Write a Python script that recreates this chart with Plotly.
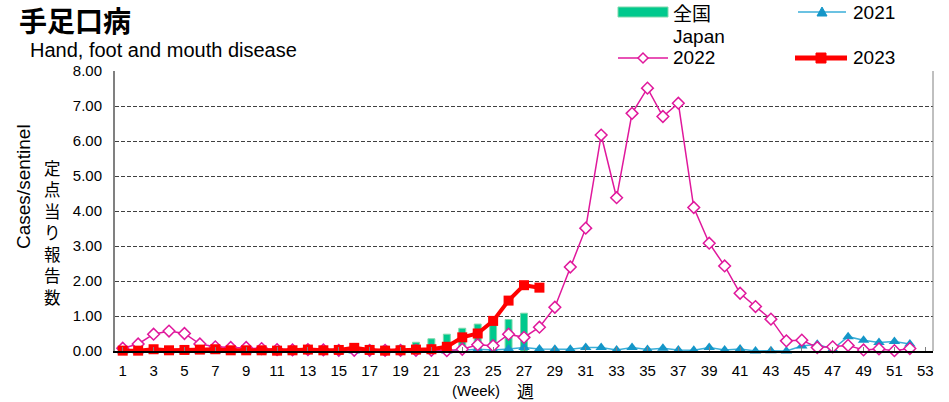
import plotly.graph_objects as go

weeks_all = list(range(1, 53))
weeks_2023 = list(range(1, 29))
weeks_japan = list(range(1, 28))

japan_2023 = [0.03, 0.03, 0.04, 0.04, 0.05, 0.06, 0.07, 0.06, 0.06, 0.05,
              0.05, 0.05, 0.06, 0.06, 0.07, 0.09, 0.16, 0.14, 0.16, 0.25,
              0.35, 0.48, 0.65, 0.77, 0.84, 0.90, 1.08]

y2021 = [0.00, 0.00, 0.01, 0.00, 0.00, 0.00, 0.00, 0.01, 0.00, 0.00,
         0.01, 0.01, 0.02, 0.02, 0.00, 0.00, 0.01, 0.01, 0.01, 0.01,
         0.02, 0.00, 0.02, 0.05, 0.03, 0.06, 0.10, 0.06, 0.05, 0.05,
         0.10, 0.10, 0.03, 0.10, 0.04, 0.08, 0.03, 0.02, 0.10, 0.03,
         0.06, 0.00, 0.01, 0.00, 0.14, 0.19, 0.05, 0.41, 0.31, 0.24,
         0.27, 0.20]

y2022 = [0.08, 0.20, 0.48, 0.57, 0.50, 0.20, 0.12, 0.10, 0.10, 0.07,
         0.04, 0.03, 0.04, 0.03, 0.02, 0.02, 0.02, 0.02, 0.02, 0.02,
         0.02, 0.01, 0.05, 0.18, 0.15, 0.48, 0.39, 0.68, 1.25, 2.40,
         3.51, 6.17, 4.38, 6.79, 7.51, 6.70, 7.08, 4.10, 3.08, 2.43,
         1.65, 1.27, 0.91, 0.29, 0.31, 0.10, 0.12, 0.16, 0.03, 0.06,
         0.01, 0.07]

y2023 = [0.01, 0.01, 0.05, 0.02, 0.03, 0.04, 0.05, 0.02, 0.02, 0.02,
         0.01, 0.02, 0.04, 0.02, 0.03, 0.09, 0.03, 0.01, 0.02, 0.04,
         0.05, 0.12, 0.39, 0.50, 0.86, 1.44, 1.88, 1.81]

x_ticks = list(range(1, 54, 2))
y_ticks = [0, 1, 2, 3, 4, 5, 6, 7, 8]

FONT = "Liberation Sans, Arial, Noto Sans CJK JP, sans-serif"
CJK = "Noto Sans CJK JP, sans-serif"

C_JP = "#00C98D"
C21 = "#1496C8"
C21L = "#3AAED8"
C22 = "#E0189C"
C23 = "#FF0000"

# plot area in pixels
L, R, T, B = 115, 16, 71, 51
W, H = 949, 402
PW, PH = W - L - R, H - T - B


def px(x):
    return (x - L) / PW


def py(y):
    return (H - B - y) / PH


fig = go.Figure()
fig.add_trace(go.Bar(
    x=weeks_japan, y=japan_2023, name="全国 Japan",
    marker=dict(color=C_JP, line=dict(color="#7ED9AC", width=1)),
    width=0.45,
))
fig.add_trace(go.Scatter(
    x=weeks_all, y=y2021, name="2021", mode="lines+markers",
    line=dict(color=C21L, width=1.5),
    marker=dict(symbol="triangle-up", size=10, color=C21),
    cliponaxis=False,
))
fig.add_trace(go.Scatter(
    x=weeks_all, y=y2022, name="2022", mode="lines+markers",
    line=dict(color=C22, width=1.5),
    marker=dict(symbol="diamond", size=9, color="white",
                line=dict(color=C22, width=1.5)),
    cliponaxis=False,
))
fig.add_trace(go.Scatter(
    x=weeks_2023, y=y2023, name="2023", mode="lines+markers",
    line=dict(color=C23, width=4),
    marker=dict(symbol="square", size=10, color=C23),
    cliponaxis=False,
))

fig.update_layout(
    width=W, height=H,
    margin=dict(l=L, r=R, t=T, b=B, autoexpand=False),
    plot_bgcolor="white", paper_bgcolor="white",
    font=dict(family=FONT, size=15, color="black"),
    showlegend=False,
    bargap=0.5,
    xaxis=dict(
        range=[0.5, 53.5], tickmode="array", tickvals=x_ticks,
        ticktext=[str(t) for t in x_ticks],
        showgrid=False, showline=True, linecolor="black", linewidth=1.5,
        ticks="inside", ticklen=4, tickcolor="#808080",
        tickfont=dict(size=15), zeroline=False, ticklabelstandoff=5,
    ),
    yaxis=dict(
        range=[0, 8], tickmode="array", tickvals=y_ticks,
        ticktext=[f"{v:.2f}" for v in y_ticks],
        showgrid=True, gridcolor="#404040", griddash="4px,2px", gridwidth=1,
        showline=True, linecolor="#808080", linewidth=2,
        zeroline=False, ticks="", tickfont=dict(size=15),
        ticklabelstandoff=8,
    ),
)

# right border
fig.add_shape(type="line", xref="paper", yref="paper", x0=1, x1=1, y0=0, y1=1,
              line=dict(color="#808080", width=1))

# ---- legend (drawn manually) ----
# 全国 Japan
fig.add_shape(type="rect", xref="paper", yref="paper",
              x0=px(618), x1=px(668), y0=py(17), y1=py(7),
              fillcolor=C_JP, line=dict(color="#7ED9AC", width=1))
fig.add_annotation(text="全国", xref="paper", yref="paper", x=px(671), y=py(12),
                   xanchor="left", yanchor="middle", showarrow=False,
                   font=dict(family=CJK, size=19))
fig.add_annotation(text="Japan", xref="paper", yref="paper", x=px(671), y=py(36),
                   xanchor="left", yanchor="middle", showarrow=False,
                   font=dict(size=19))
# 2021
fig.add_shape(type="line", xref="paper", yref="paper",
              x0=px(798), x1=px(846), y0=py(12), y1=py(12),
              line=dict(color=C21L, width=1.5))
fig.add_shape(type="path", xref="paper", yref="paper",
              xsizemode="pixel", ysizemode="pixel",
              xanchor=px(822), yanchor=py(12),
              path="M -5,-4 L 5,-4 L 0,5 Z", fillcolor=C21, line=dict(color=C21, width=1))
fig.add_annotation(text="2021", xref="paper", yref="paper", x=px(851), y=py(12),
                   xanchor="left", yanchor="middle", showarrow=False,
                   font=dict(size=19))
# 2022
fig.add_shape(type="line", xref="paper", yref="paper",
              x0=px(618), x1=px(668), y0=py(58), y1=py(58),
              line=dict(color=C22, width=1.5))
fig.add_shape(type="path", xref="paper", yref="paper",
              xsizemode="pixel", ysizemode="pixel",
              xanchor=px(643), yanchor=py(58),
              path="M -5,0 L 0,5 L 5,0 L 0,-5 Z", fillcolor="white",
              line=dict(color=C22, width=1.5))
fig.add_annotation(text="2022", xref="paper", yref="paper", x=px(671), y=py(58),
                   xanchor="left", yanchor="middle", showarrow=False,
                   font=dict(size=19))
# 2023
fig.add_shape(type="line", xref="paper", yref="paper",
              x0=px(795), x1=px(847), y0=py(58), y1=py(58),
              line=dict(color=C23, width=5))
fig.add_shape(type="path", xref="paper", yref="paper",
              xsizemode="pixel", ysizemode="pixel",
              xanchor=px(821), yanchor=py(58),
              path="M -5,-5 L 5,-5 L 5,5 L -5,5 Z", fillcolor=C23,
              line=dict(color=C23, width=1))
fig.add_annotation(text="2023", xref="paper", yref="paper", x=px(851), y=py(58),
                   xanchor="left", yanchor="middle", showarrow=False,
                   font=dict(size=19))

# ---- titles ----
fig.add_annotation(text="<b>手足口病</b>", xref="paper", yref="paper",
                   x=px(17), y=py(20), xanchor="left", yanchor="middle",
                   showarrow=False, font=dict(family=CJK, size=28))
fig.add_annotation(text="Hand, foot and mouth disease", xref="paper", yref="paper",
                   x=px(28), y=py(50), xanchor="left", yanchor="middle",
                   showarrow=False, font=dict(size=20))
fig.add_annotation(text="Cases/sentinel", xref="paper", yref="paper",
                   x=px(23), y=py(187), xanchor="center", yanchor="middle",
                   textangle=-90, showarrow=False, font=dict(size=19))
fig.add_annotation(text="<br>".join("定点当り報告数"), xref="paper", yref="paper",
                   x=px(52), y=py(233), xanchor="center", yanchor="middle",
                   showarrow=False, font=dict(family=CJK, size=16.5))
fig.add_annotation(text="(Week)", xref="paper", yref="paper",
                   x=px(476), y=py(390), xanchor="center", yanchor="middle",
                   showarrow=False, font=dict(size=15))
fig.add_annotation(text="週", xref="paper", yref="paper",
                   x=px(525), y=py(390), xanchor="center", yanchor="middle",
                   showarrow=False, font=dict(family=CJK, size=17))

fig.write_html("out.html",
               config={"displayModeBar": False},
               post_script="document.body.style.margin='0';"
                           "document.body.style.overflow='hidden';")
